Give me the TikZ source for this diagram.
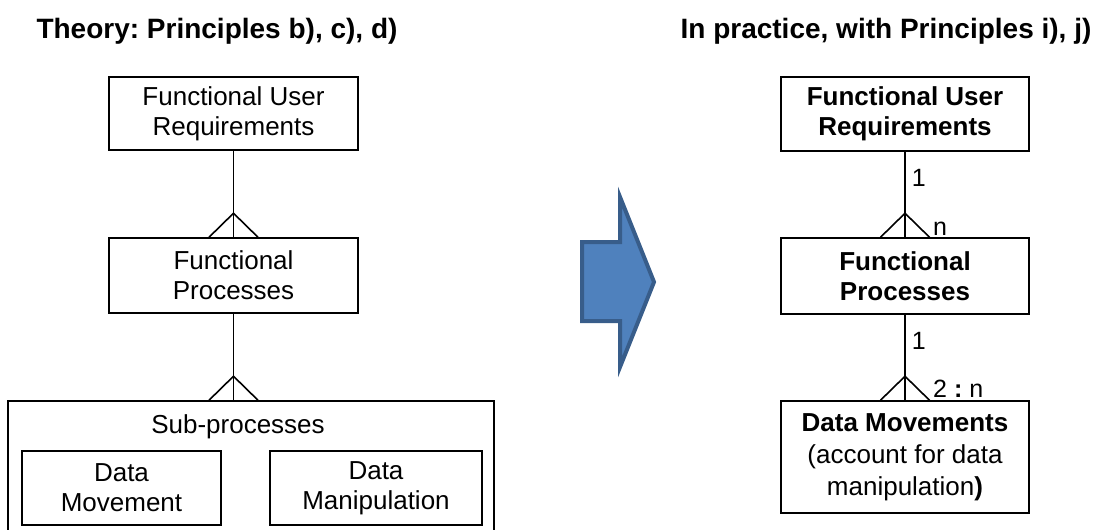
\documentclass[tikz,border=0pt]{standalone}
\usepackage{fontspec}
\setmainfont{Liberation Sans}
\frenchspacing
\newcommand\boxfont{\fontsize{26}{30}\selectfont}
\newcommand\dmfont{\fontsize{26}{32}\selectfont}
\newcommand\titlefont{\fontsize{28}{32}\selectfont\bfseries}
\newcommand\lblfont{\fontsize{25}{30}\selectfont}
\definecolor{arrowfill}{HTML}{4F81BD}
\definecolor{arrowline}{HTML}{385D8A}
\begin{document}
\begin{tikzpicture}[x=1pt,y=-1pt,
  box/.style={draw, line width=1.5pt, inner sep=0pt, align=center, font=\boxfont},
  bbox/.style={box, font=\boxfont\bfseries},
  conn/.style={line width=1.6pt},
  lbl/.style={inner sep=0pt, font=\lblfont},
  ttl/.style={inner sep=0pt, font=\titlefont, anchor=base}]
\clip (0,0) rectangle (1114,530);
% titles
\node[ttl] (t1) at (217,38) {Theory: Principles b), c), d)};
\node[ttl] (t2) at (886,38) {In practice, with Principles i), j)};
% left column
\node[box, minimum width=249pt, minimum height=73pt] (lfur) at (233.5,113.5) {Functional User\\Requirements};
\node[box, minimum width=249pt, minimum height=75pt] (lfp) at (233.5,275.5) {Functional\\Processes};
\node[box, minimum width=486pt, minimum height=140pt] (lsub) at (251,471) {};
\node[inner sep=0pt, font=\boxfont] (lsublbl) at (238,427) {Sub-processes};
\node[box, minimum width=199pt, minimum height=74pt] (ldm) at (121.5,488) {Data\\Movement};
\node[box, minimum width=212pt, minimum height=74pt] (ldman) at (376,488) {Data\\Manipulation};
\draw[conn] (lfur.south) -- (lfp.north);
\draw[conn] ([xshift=-24.5pt]lfp.north) -- ([yshift=24pt]lfp.north) -- ([xshift=24.5pt]lfp.north);
\coordinate (lc) at (lfp.south |- lsub.north);
\draw[conn] (lfp.south) -- (lc);
\draw[conn] ([xshift=-24.5pt]lc) -- ([yshift=24pt]lc) -- ([xshift=24.5pt]lc);
% big arrow
\draw[fill=arrowfill, draw=arrowline, line width=4pt, line join=miter]
  (582,242) -- (620,242) -- (620,197) -- (654,282) -- (620,367) -- (620,321) -- (582,321) -- cycle;
% right column
\node[bbox, minimum width=248pt, minimum height=74pt] (rfur) at (905,114) {Functional User\\Requirements};
\node[bbox, minimum width=248pt, minimum height=76pt] (rfp) at (905,276) {Functional\\Processes};
\node[box, font=\dmfont, minimum width=248pt, minimum height=112pt] (rdm) at (905,457) {\textbf{Data Movements}\\(account for data\\manipulation\textbf{)}};
\draw[conn] (rfur.south) -- node[lbl, pos=0.3, anchor=west, xshift=6pt] (l1) {1} (rfp.north);
\draw[conn] ([xshift=-24.5pt]rfp.north) -- ([yshift=24pt]rfp.north) -- ([xshift=24.5pt]rfp.north);
\node[lbl, anchor=base west] (ln) at ([xshift=28pt,yshift=1.5pt]rfp.north) {n};
\draw[conn] (rfp.south) -- node[lbl, pos=0.3, anchor=west, xshift=6pt] (l2) {1} (rdm.north);
\draw[conn] ([xshift=-24.5pt]rdm.north) -- ([yshift=24pt]rdm.north) -- ([xshift=24.5pt]rdm.north);
\node[lbl, anchor=base west] (l2n) at ([xshift=28pt,yshift=3pt]rdm.north) {2 \textbf{:} n};
\end{tikzpicture}
\end{document}
